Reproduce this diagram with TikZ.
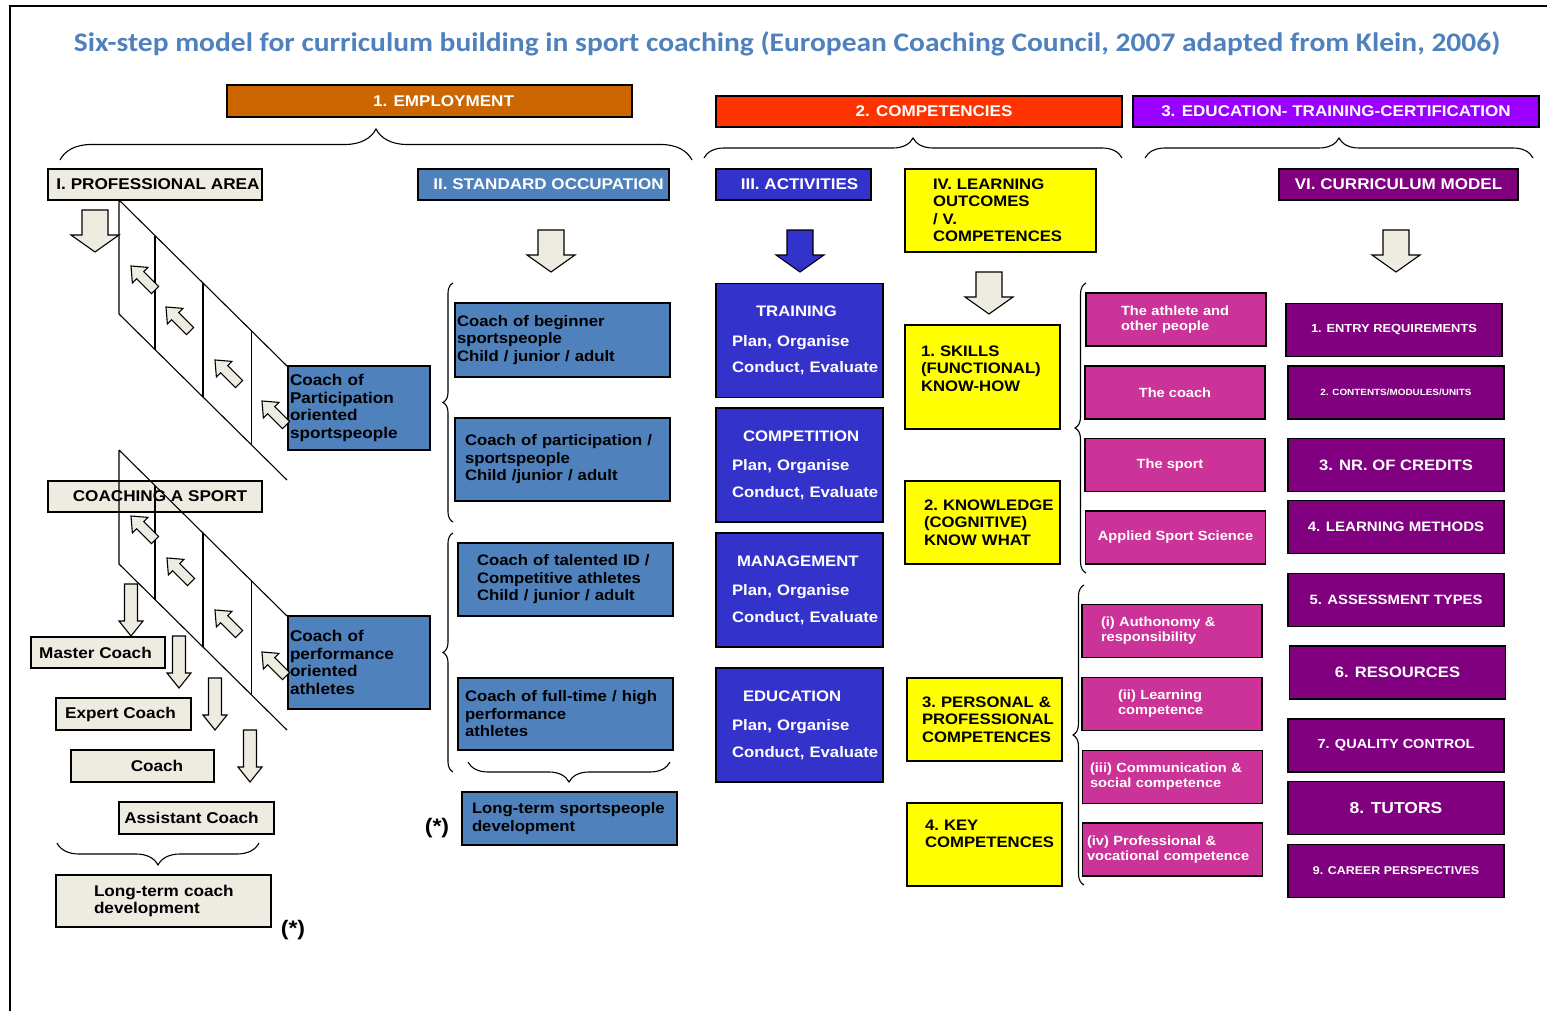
\documentclass[tikz,border=0pt]{standalone}
\usepackage{fontspec}
\setmainfont{Liberation Sans}[FakeStretch=1.1]
\newfontfamily\titlefont{Carlito}[FakeStretch=1.1]
\usetikzlibrary{decorations.pathreplacing,calc}
\definecolor{cbeige}{HTML}{EEECE1}
\definecolor{cblue}{HTML}{4F81BD}
\definecolor{cact}{HTML}{3333CC}
\definecolor{cyel}{HTML}{FFFF00}
\definecolor{cpink}{HTML}{CC3399}
\definecolor{cpurp}{HTML}{800080}
\definecolor{corange}{HTML}{CC6600}
\definecolor{cred}{HTML}{FF3300}
\definecolor{cviolet}{HTML}{9900FF}
\newcommand{\bx}[2]{\fontsize{#1}{#2}\selectfont\bfseries}
\hyphenpenalty=10000
\exhyphenpenalty=10000
\lefthyphenmin=62

\begin{document}
\begin{tikzpicture}[x=1pt, y=-1pt,
  box/.style={draw, line width=1.1pt, inner sep=2pt},
  wh/.style 2 args={minimum width=#1, minimum height=#2},
  lft/.style={align=left, text width=#1},
  head/.style={box, text=white, font=\bx{15.5}{17.5}},
  pale/.style={box, fill=cbeige, font=\bx{15.6}{17.5}},
  occ/.style={box, fill=cblue, font=\bx{15.2}{17.5}},
  act/.style={box, fill=cact, text=white, font=\bx{15.2}{17.5}, wh={167}{114}, lft=135pt},
  lo/.style={box, fill=cyel, font=\bx{15.2}{17.5}},
  area/.style={box, fill=cpink, text=white, font=\bx{13.3}{15}, wh={180}{53}},
  curr/.style={box, fill=cpurp, text=white, wh={216}{53}},
  brc/.style={decorate, decoration={brace, amplitude=#1}, line width=1.1pt},
  blk/.style={draw, line width=1.1pt, fill=cbeige},
  bigarr/.pic={\path[pic actions] (-21,-13) -- (4,-13) -- (4,-24) -- (21,0) -- (4,24) -- (4,13) -- (-21,13) -- cycle;},
  lowarr/.pic={\path[pic actions] (-26,-6.5) -- (11,-6.5) -- (11,-12) -- (26,0) -- (11,12) -- (11,6.5) -- (-26,6.5) -- cycle;},
  stairarr/.pic={\path[pic actions] (-17,-5) -- (4,-5) -- (4,-11) -- (17,0) -- (4,11) -- (4,5) -- (-17,5) -- cycle;}]
\useasboundingbox (0,0) rectangle (1547,1011);
\draw[line width=1.5pt] (10,1011) -- (10,6) -- (1547,6);
\node[text=cblue, font=\titlefont\fontsize{26.8}{32}\selectfont\bfseries] (title) at (787,44)
  {Six-step model for curriculum building in sport coaching (European Coaching Council, 2007 adapted from Klein, 2006)};
% three main headers
\node[head, fill=corange, wh={405}{32}] (employ) at (429.5,101) {\hspace*{28pt}1. EMPLOYMENT};
\node[head, fill=cred, wh={406}{31}] (compet) at (919,111.5) {\hspace*{30pt}2. COMPETENCIES};
\node[head, fill=cviolet, wh={406}{31}] (educ) at (1336,111.5) {3. EDUCATION- TRAINING-CERTIFICATION};
\draw[brc=31pt] (60,160) -- (692,160);
\draw[brc=20pt] (704,158) -- (1122,158);
\draw[brc=20pt] (1145,158) -- (1533,158);
% column headers
\node[pale, wh={214}{31}] (profarea) at (155,184.5) {\hspace*{6pt}I. PROFESSIONAL AREA};
\node[head, fill=cblue, wh={251}{31}] (stdocc) at (543.5,184.5) {\hspace*{10pt}II. STANDARD OCCUPATION};
\node[head, fill=cact, wh={155}{31}] (activ) at (793.5,184.5) {\hspace*{12pt}III. ACTIVITIES};
\node[lo, wh={191}{83}, lft=135pt] (outcomes) at (1000.5,210.5) {IV.~LEARNING\\OUTCOMES\\/~V.\\COMPETENCES};
\node[head, fill=cpurp, wh={239}{31}] (currmod) at (1398.5,184.5) {VI. CURRICULUM MODEL};
% professional area
\node[occ, wh={142}{84}, lft=138pt, font=\bx{15.6}{17.5}] (partic) at (359,408) {Coach~of\\Participation\\oriented\\sportspeople};
\node[pale, wh={214}{31}] (sport) at (155,496.5) {\hspace*{10pt}COACHING A SPORT};
\node[occ, wh={142}{93}, lft=138pt, font=\bx{15.6}{17.5}] (perform) at (359,662.5) {Coach~of\\performance\\oriented\\athletes};
\node[pale, wh={134}{31}] (master) at (98,652.5) {Master Coach\hspace*{5pt}};
\node[pale, wh={135}{32}] (expert) at (123.5,714) {Expert Coach\hspace*{6pt}};
\node[pale, wh={143}{32}] (coach) at (142.5,766) {\hspace*{29pt}Coach};
\node[pale, wh={155}{32}] (assist) at (196.5,818) {Assistant Coach\hspace*{10pt}};
\draw[brc=22pt] (259,843) -- (57,843);
\node[pale, wh={215}{52}, lft=139pt] (ltcoach) at (163.5,901) {Long-term~coach\\development};
\node[font=\bx{21}{24}] (star1) at (293,930) {(*)};
% staircases
\coordinate (atl) at (119,200); \coordinate (atr) at (287,366);
\coordinate (abl) at (119,314); \coordinate (abr) at (287,480);
\coordinate (btl) at (119,450); \coordinate (btr) at (287,616);
\coordinate (bbl) at (119,564); \coordinate (bbr) at (287,730);
\foreach \s in {a,b} {
  \draw[line width=1.1pt] (\s tl) -- (\s tr) (\s bl) -- (\s br) (\s tl) -- (\s bl);
  \foreach \t in {0.214,0.5,0.786}
    \draw[line width=1.1pt] ($(\s tl)!\t!(\s tr)$) -- ($(\s bl)!\t!(\s br)$);
}
\foreach \x/\y in {143/278,178/319,227/372,274/413,143/528,179/570,227/622,274/664}
  \pic[blk, rotate=135] at (\x,\y) {stairarr};
\foreach \x/\y in {131/610,179/662,215/704,250/756}
  \pic[blk, rotate=-90] at (\x,\y) {lowarr};
% standard occupation
\node[occ, wh={215}{74}, lft=211pt] (beginner) at (562.5,340) {Coach~of~beginner\\sportspeople\\Child~/~junior~/~adult};
\node[occ, wh={215}{83}, lft=195pt] (partsp) at (562.5,459.5) {Coach~of~participation~/\\sportspeople\\Child~/junior~/~adult};
\node[occ, wh={215}{73}, lft=177pt] (talent) at (565.5,579.5) {Coach~of~talented~ID~/\\Competitive~athletes\\Child~/~junior~/~adult};
\node[occ, wh={215}{72}, lft=201pt] (fulltime) at (565.5,714) {Coach~of~full-time~/~high\\performance\\athletes};
\node[occ, wh={215}{53}, lft=195pt] (ltsport) at (569.5,818.5) {Long-term~sportspeople\\development};
\node[font=\bx{21}{24}] (star2) at (437,828) {(*)};
\draw[brc=10pt] (453,522) -- (453,283);
\draw[brc=10pt] (453,772) -- (453,533);
\draw[brc=20pt] (670,762) -- (468,762);
% activities
\node[act] (training) at (799.5,340.5) {\hspace*{24pt}TRAINING\\[12pt]Plan,~Organise\\[9pt]Conduct,~Evaluate};
\node[act] (competition) at (799.5,465) {\hspace*{11pt}COMPETITION\\[12pt]Plan,~Organise\\[9pt]Conduct,~Evaluate};
\node[act] (management) at (799.5,590) {\hspace*{5pt}MANAGEMENT\\[12pt]Plan,~Organise\\[9pt]Conduct,~Evaluate};
\node[act] (education) at (799.5,725) {\hspace*{11pt}EDUCATION\\[12pt]Plan,~Organise\\[9pt]Conduct,~Evaluate};
% learning outcomes
\node[lo, wh={155}{104}, lft=123pt] (skills) at (982.5,377) {1.~SKILLS\\(FUNCTIONAL)\\KNOW-HOW\\~};
\node[lo, wh={155}{83}, lft=117pt] (knowledge) at (982.5,522.5) {2.~KNOWLEDGE\\(COGNITIVE)\\KNOW~WHAT};
\node[lo, wh={155}{83}, lft=125pt] (personal) at (984.5,719.5) {3.~PERSONAL~\&\\PROFESSIONAL\\COMPETENCES};
\node[lo, wh={155}{83}, lft=119pt] (keycomp) at (984.5,844.5) {4.~KEY\\COMPETENCES\\[4pt]~};
\draw[brc=11pt] (1086,573) -- (1086,283);
\draw[brc=11pt] (1084,885) -- (1084,585);
\node[area, lft=110pt] (athlete) at (1176,319.5) {The~athlete~and\\other~people};
\node[area] (thecoach) at (1175,392.5) {The coach};
\node[area] (thesport) at (1175,465) {The sport\hspace*{10pt}};
\node[area] (applied) at (1175.5,537.5) {Applied Sport Science};
\node[area, lft=142pt] (autonomy) at (1172,631) {(i)~Authonomy~\&\\responsibility};
\node[area, lft=108pt] (learncomp) at (1172,704) {(ii)~Learning\\competence};
\node[area, lft=165pt] (social) at (1172.5,777) {(iii)~Communication~\&\\social~competence};
\node[area, lft=171pt] (vocational) at (1172.5,849.5) {(iv)~Professional~\&\\vocational~competence};
% curriculum model
\node[curr, font=\bx{11.7}{13}] (entry) at (1394,330) {1. ENTRY REQUIREMENTS};
\node[curr, font=\bx{9}{10}] (contents) at (1396,392.5) {2. CONTENTS/MODULES/UNITS};
\node[curr, font=\bx{15.1}{17}] (credits) at (1396,465) {3. NR. OF CREDITS};
\node[curr, font=\bx{13.7}{15}] (methods) at (1396,527) {4. LEARNING METHODS};
\node[curr, font=\bx{13.5}{15}] (assess) at (1396,600) {5. ASSESSMENT TYPES};
\node[curr, font=\bx{15.1}{17}] (resources) at (1397.5,672.5) {6. RESOURCES};
\node[curr, font=\bx{13.2}{15}] (quality) at (1396,745.5) {7. QUALITY CONTROL};
\node[curr, font=\bx{15.9}{17}] (tutors) at (1396,808) {8. TUTORS};
\node[curr, font=\bx{11.3}{13}] (career) at (1396,871) {9. CAREER PERSPECTIVES};
% block arrows under the column headers
\pic[blk, rotate=-90] at (95,231) {bigarr};
\pic[blk, rotate=-90] at (551,251) {bigarr};
\pic[blk, fill=cact, rotate=-90] at (800,251) {bigarr};
\pic[blk, rotate=-90] at (989,293) {bigarr};
\pic[blk, rotate=-90] at (1396,251) {bigarr};
\end{tikzpicture}
\end{document}
